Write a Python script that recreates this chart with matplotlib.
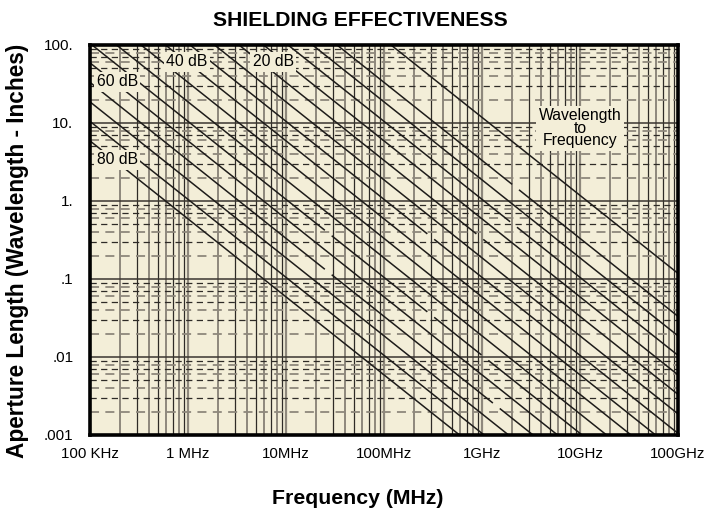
import numpy as np
import matplotlib
matplotlib.use("Agg")
import matplotlib.pyplot as plt

plt.rcParams['font.family'] = ['Liberation Sans', 'DejaVu Sans']

# shielding effectiveness curves (dB), one every 5 dB
se_levels = [5, 10, 15, 20, 25, 30, 35, 40, 45, 50, 55, 60, 65, 70, 75, 80]
# small breaks seen in some curves: (dB, frequency MHz)
line_gaps = [(5, 2200), (15, 2100), (25, 950), (35, 300), (55, 27),
             (55, 300), (55, 1070), (65, 27), (65, 1400)]

x_ticks = [0.1, 1, 10, 100, 1000, 1e4, 1e5]
x_labels = ['100 KHz', '1 MHz', '10MHz', '100MHz', '1GHz', '10GHz', '100GHz']
y_ticks = [0.001, 0.01, 0.1, 1, 10, 100]
y_labels = ['.001', '.01', '.1', '1.', '10.', '100.']

# curve labels: text, freq (MHz), aperture (in)
curve_labels = [('40 dB', 0.98, 60.6), ('20 dB', 7.4, 60.6),
                ('60 dB', 0.19, 33.6), ('80 dB', 0.19, 3.36),
                ('Wavelength\nto\nFrequency', 1.0e4, 8.6)]

C_IN = 11803.0   # wavelength (inches) = C_IN / f (MHz)
BG = '#f3eed8'
DARK = '#2e2b27'
GRAY = '#8e887c'

fig = plt.figure(figsize=(7.05, 5.12), dpi=100)
ax = fig.add_axes([90/705, 1-435/512, 588/705, 390/512])
ax.set_facecolor(BG)
ax.set_xscale('log')
ax.set_yscale('log')
ax.set_xlim(0.1, 1e5)
ax.set_ylim(0.001, 100)

# vertical grid
k = 0
for dec in x_ticks[:-1]:
    for m in range(1, 10):
        xv = dec*m
        if m == 1:
            ax.axvline(xv, color=GRAY, lw=1.6, zorder=1)
        else:
            c = GRAY if k % 2 == 0 else DARK
            ax.axvline(xv, color=c, lw=1.4 if c == GRAY else 0.9, zorder=1)
            k += 1

# horizontal grid
k = 0
for dec in y_ticks[:-1]:
    for m in range(2, 10):
        c = GRAY if k % 2 == 0 else DARK
        ln = ax.axhline(dec*m, color=c, lw=1.3 if c == GRAY else 0.9, zorder=1)
        ln.set_dashes([5, 3.5])
        k += 1
for yv in y_ticks:
    ax.axhline(yv, color='#3a3630', lw=1.1, zorder=1)

# shielding lines
for se in se_levels:
    edges = [0.1]
    for g_se, g_f in line_gaps:
        if g_se == se:
            edges += [g_f/10**0.035, g_f*10**0.035]
    edges.append(1e5)
    for i in range(0, len(edges), 2):
        f = np.array([edges[i], edges[i+1]])
        L = C_IN/f/2/10**(se/20)
        ax.plot(f, L, color='#1e1c1a', lw=1.1, zorder=3, solid_capstyle='butt')

# wavelength line
f = np.array([0.1, 1e5])
ax.plot(f, C_IN/f, color='#1e1c1a', lw=1.1, zorder=3)

for txt, fx, ly in curve_labels:
    ax.text(fx, ly, txt, ha='center', va='center', fontsize=11.3,
            linespacing=0.8, zorder=4,
            bbox=dict(boxstyle='square,pad=0.15', fc=BG, ec='none'))

ax.set_xticks(x_ticks)
ax.set_xticklabels(x_labels)
ax.set_yticks(y_ticks)
ax.set_yticklabels(y_labels)
ax.minorticks_off()
ax.tick_params(length=0, labelsize=10.8, pad=9, colors='black')
ax.tick_params(axis='y', labelsize=11, pad=12)

for s in ax.spines.values():
    s.set_linewidth(2.6)
    s.set_color('black')
    s.set_zorder(5)

fig.text(360/705, 1-20/512, 'SHIELDING EFFECTIVENESS', fontsize=15.2, fontweight='bold',
         ha='center', va='center')
fig.text(18/705, 1-251/512, 'Aperture Length (Wavelength - Inches)', fontsize=16.3,
         fontweight='bold', rotation=90, ha='center', va='center')
fig.text(358/705, 1-499/512, 'Frequency (MHz)', fontsize=15.3, fontweight='bold',
         ha='center', va='center')

plt.savefig('out.png', dpi=100)
